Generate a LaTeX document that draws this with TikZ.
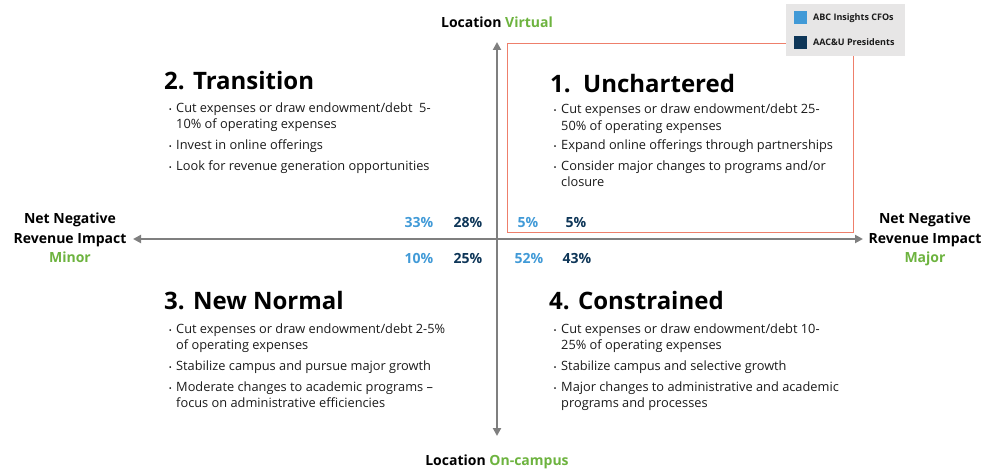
\documentclass[tikz,border=0pt]{standalone}
\usepackage{fontspec}
\setmainfont{Open Sans}
\usetikzlibrary{arrows.meta}
\definecolor{axisgray}{HTML}{7F7F7F}
\definecolor{lblue}{HTML}{419AD7}
\definecolor{dnavy}{HTML}{0E3658}
\definecolor{lgreen}{HTML}{6DB33F}
\definecolor{redline}{HTML}{EE7F6B}
\definecolor{legbg}{HTML}{E7E6E6}
\definecolor{txt}{HTML}{1A1A1A}
\begin{document}
\begin{tikzpicture}[x=1pt,y=-1pt,
  qtitle/.style={font=\fontsize{24}{28}\selectfont\bfseries, anchor=base west, inner sep=0pt, text=black},
  bt/.style={font=\fontsize{12.8}{15}\selectfont, text=txt, anchor=base west, inner sep=0pt},
  bdot/.style={font=\fontsize{8}{9}\selectfont, text=txt, anchor=base, inner sep=0pt},
  pct/.style={font=\fontsize{14}{16}\selectfont\bfseries, anchor=base, inner sep=0pt},
  axlbl/.style={font=\fontsize{14}{16}\selectfont\bfseries, anchor=base, inner sep=0pt, text=black},
  leg/.style={font=\fontsize{9}{10}\selectfont\bfseries, anchor=base west, inner sep=0pt, text=txt},
  axisline/.style={draw=axisgray, line width=2.5pt, {Triangle[length=8pt,width=8pt]}-{Triangle[length=8pt,width=8pt]}},
]
\useasboundingbox (0,0) rectangle (984,473);

% red frame of quadrant 1
\draw[redline, line width=1pt] (507,44) rectangle (853,232.5);

% legend
\node[fill=legbg, inner sep=0pt, minimum width=119pt, minimum height=52pt, anchor=north west] (legend) at (786,4) {};
\node[fill=lblue, inner sep=0pt, minimum size=13pt, anchor=north west] (sqA) at (794,11) {};
\node[fill=dnavy, inner sep=0pt, minimum size=13pt, anchor=north west] (sqB) at (794,36) {};
\node[leg] (legA) at (813,21) {ABC Insights CFOs};
\node[leg] (legB) at (813,46) {AAC\&U Presidents};

% axes
\coordinate (T) at (497,42);
\coordinate (B) at (497,436);
\coordinate (L) at (133,239);
\coordinate (R) at (863,239);
\draw[axisline] (B) -- (T);
\draw[axisline] (L) -- (R);

% axis labels
\node[axlbl] (top) at (497,28) {Location \textcolor{lgreen}{Virtual}};
\node[axlbl] (bottom) at (497,465) {Location \textcolor{lgreen}{On-campus}};
\node[axlbl] (l1) at (70,223.5) {Net Negative};
\node[axlbl] (l2) at (70,243) {Revenue Impact};
\node[axlbl, text=lgreen] (l3) at (70,262) {Minor};
\node[axlbl] (r1) at (925,223.5) {Net Negative};
\node[axlbl] (r2) at (925,243) {Revenue Impact};
\node[axlbl, text=lgreen] (r3) at (925,262) {Major};

% percentages
\node[pct, text=lblue] (p1) at (419,227) {33\%};
\node[pct, text=dnavy] (p2) at (468,227) {28\%};
\node[pct, text=lblue] (p3) at (528,227) {5\%};
\node[pct, text=dnavy] (p4) at (576,227) {5\%};
\node[pct, text=lblue] (p5) at (419,263) {10\%};
\node[pct, text=dnavy] (p6) at (468,263) {25\%};
\node[pct, text=lblue] (p7) at (529,263) {52\%};
\node[pct, text=dnavy] (p8) at (577,263) {43\%};

% quadrant 2
\node[qtitle] (t2) at (164,90) {2. Transition};
\node[bdot] (d21) at (170.5,112.3) {•};
\node[bt] (b21) at (176,112.3) {Cut expenses or draw endowment/debt\ \ 5-};
\node[bt] (b21b) at (176,129) {10\% of operating expenses};
\node[bdot] (d22) at (170.5,149.7) {•};
\node[bt] (b22) at (176,149.7) {Invest in online offerings};
\node[bdot] (d23) at (170.5,170.7) {•};
\node[bt] (b23) at (176,170.7) {Look for revenue generation opportunities};

% quadrant 1
\node[qtitle] (t1) at (550,93) {1.\ \ Unchartered};
\node[bdot] (d11) at (555,114) {•};
\node[bt] (b11) at (561,114) {Cut expenses or draw endowment/debt 25-};
\node[bt] (b11b) at (561,130.7) {50\% of operating expenses};
\node[bdot] (d12) at (555,150) {•};
\node[bt] (b12) at (561,150) {Expand online offerings through partnerships};
\node[bdot] (d13) at (555,170.7) {•};
\node[bt] (b13) at (561,170.7) {Consider major changes to programs and/or};
\node[bt] (b13b) at (561,186.7) {closure};

% quadrant 3
\node[qtitle] (t3) at (164,309) {3. New Normal};
\node[bdot] (d31) at (170.5,333.5) {•};
\node[bt] (b31) at (176,333.5) {Cut expenses or draw endowment/debt 2-5\%};
\node[bt] (b31b) at (176,349.5) {of operating expenses};
\node[bdot] (d32) at (170.5,370.5) {•};
\node[bt] (b32) at (176,370.5) {Stabilize campus and pursue major growth};
\node[bdot] (d33) at (170.5,391) {•};
\node[bt] (b33) at (176,391) {Moderate changes to academic programs –};
\node[bt] (b33b) at (176,407) {focus on administrative efficiencies};

% quadrant 4
\node[qtitle] (t4) at (549,309) {4. Constrained};
\node[bdot] (d41) at (555,333.5) {•};
\node[bt] (b41) at (561,333.5) {Cut expenses or draw endowment/debt 10-};
\node[bt] (b41b) at (561,349.5) {25\% of operating expenses};
\node[bdot] (d42) at (555,370.5) {•};
\node[bt] (b42) at (561,370.5) {Stabilize campus and selective growth};
\node[bdot] (d43) at (555,391) {•};
\node[bt] (b43) at (561,391) {Major changes to administrative and academic};
\node[bt] (b43b) at (561,407) {programs and processes};
\end{tikzpicture}
\end{document}
